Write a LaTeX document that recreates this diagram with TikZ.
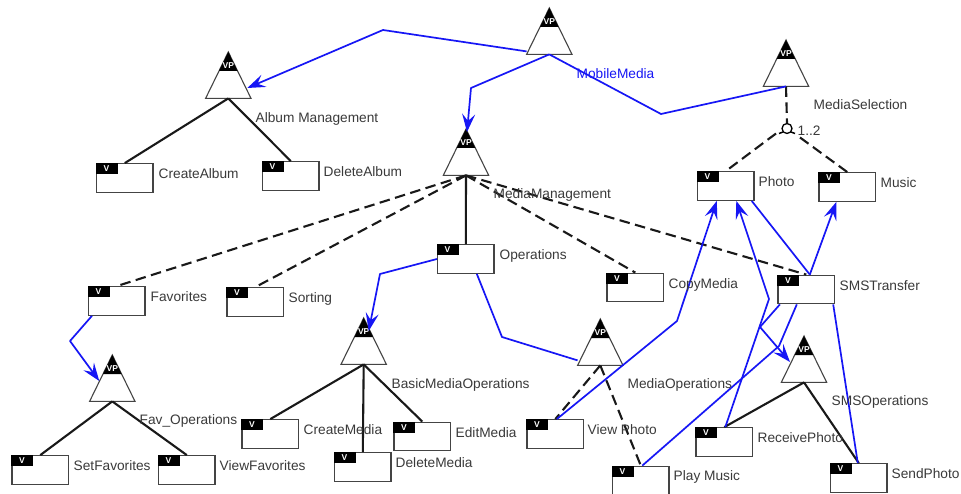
\documentclass[tikz,border=0pt]{standalone}
\usepackage{fontspec}
\setmainfont{Liberation Sans}
\usetikzlibrary{arrows.meta,calc}
\definecolor{linkblue}{HTML}{1616F5}
\definecolor{labelgrey}{HTML}{3A3A3A}
\definecolor{edgegrey}{HTML}{444444}
\tikzset{
  x=1pt,y=-1pt,
  vpframe/.style={inner sep=0pt,minimum width=45pt,minimum height=46pt,anchor=north},
  vpshape/.style={draw=edgegrey,line width=1.1pt,fill=white,line join=miter},
  vpmark/.style={text=white,font=\bfseries\fontsize{8.5}{9}\selectfont,inner sep=0pt},
  varframe/.style={draw=edgegrey,line width=1.3pt,fill=white,inner sep=0pt,minimum width=56.5pt,minimum height=28.5pt,anchor=north west,xshift=-0.6pt,yshift=0.4pt},
  lbl/.style={anchor=base west,inner sep=0pt,text=labelgrey,xshift=-0.5pt,font=\fontsize{13.7}{15}\selectfont},
  mand/.style={draw=black!90,line width=2.1pt},
  opt/.style={draw=black!90,line width=2.1pt,dash pattern=on 10.5pt off 5.5pt},
  link/.style={draw=linkblue,line width=1.7pt,line join=round},
  linkarrow/.style={link,-{Stealth[length=18pt,width=13pt,inset=7pt]}}
}
\newcommand\vpoint[3]{%
  \node[vpframe] (#1) at (#2,#3) {};
  \path[vpshape] (#1.north) -- (#1.south west) -- (#1.south east) -- cycle;
  \fill[black] (#1.north) -- ($(#1.north)+(-9.3,19)$) -- ($(#1.north)+(9.3,19)$) -- cycle;
  \node[vpmark] (#1mark) at ($(#1.north)+(0,14)$) {VP};
}
\newcommand\varbox[3]{%
  \node[varframe] (#1) at (#2,#3) {};
  \fill[black] (#1.north west) rectangle ($(#1.north west)+(22,11)$);
  \node[vpmark] (#1mark) at ($(#1.north west)+(10.5,5.5)$) {V};
}
\begin{document}
\begin{tikzpicture}
\useasboundingbox (0,0) rectangle (961,494);
\fill[white] (0,0) rectangle (961,494);

\vpoint{mobile}{549.3}{8}
\vpoint{selection}{786}{40}
\vpoint{album}{228.3}{52}
\vpoint{manage}{466}{129}
\vpoint{basic}{363.7}{318}
\vpoint{fav}{112.3}{355}
\vpoint{mediaops}{600.3}{319}
\vpoint{smsops}{804}{336}

\varbox{createalbum}{96.5}{163.5}
\varbox{deletealbum}{262.5}{161.5}
\varbox{operations}{437.5}{244.5}
\varbox{favorites}{88.5}{286.5}
\varbox{sorting}{227}{287.5}
\varbox{copymedia}{607}{273}
\varbox{smstransfer}{778}{275}
\varbox{photo}{697.5}{171.5}
\varbox{music}{819}{172.5}
\varbox{setfav}{12}{455.5}
\varbox{viewfav}{158.5}{455.5}
\varbox{createmedia}{242}{419.5}
\varbox{deletemedia}{334.5}{452.5}
\varbox{editmedia}{394}{422}
\varbox{viewphoto}{527}{419.5}
\varbox{playmusic}{612.5}{466}
\varbox{receivephoto}{696}{427.5}
\varbox{sendphoto}{830.5}{463.5}

% or-group
\node[draw=black,line width=1.3pt,circle,inner sep=0pt,minimum size=10pt,fill=white] (orgroup) at (787,128.5) {};
\coordinate (orleft) at ($(orgroup)+(-11,5)$);
\coordinate (orright) at ($(orgroup)+(13,9)$);
\draw[black,line width=1.5pt] ($(orgroup)+(-8,5)$) -- ($(orgroup)+(-4,3.5)$);
\draw[black,line width=1.5pt] ($(orgroup)+(8,5)$) -- ($(orgroup)+(4,3.5)$);

% solid and dashed relations
\draw[mand] (album.south) -- (createalbum.north);
\draw[mand] (album.south) -- (deletealbum.north);
\draw[mand] (manage.south) -- (operations.north);
\draw[opt] (manage.south) -- (favorites.north);
\draw[opt] (manage.south) -- (sorting.north);
\draw[opt] (manage.south) -- (copymedia.north);
\draw[opt] (manage.south) -- (smstransfer.north);
\draw[mand] (basic.south) -- (createmedia.north);
\draw[mand] (basic.south) -- (deletemedia.north);
\draw[mand] (basic.south) -- (editmedia.north);
\draw[mand] (fav.south) -- (setfav.north);
\draw[mand] (fav.south) -- (viewfav.north);
\draw[opt] (mediaops.south) -- (viewphoto.north);
\draw[opt] (mediaops.south) -- (playmusic.north);
\draw[mand] (smsops.south) -- (receivephoto.north);
\draw[mand] (smsops.south) -- (sendphoto.north);
\draw[opt] (selection.south) -- (orgroup.north);
\draw[opt] (orleft) -- (photo.north);
\draw[opt] (orright) -- (music.north);

% bends
\coordinate (bendA) at (383,30);
\coordinate (bendB) at (471,88);
\coordinate (bendC) at (661,114);
\coordinate (bendD) at (380,274);
\coordinate (bendE) at (70,341);
\coordinate (bendF) at (502,337);
\coordinate (bendG) at (677,321);
\coordinate (bendH) at (769,299);
\coordinate (bendI) at (760,327);
\coordinate (bendJ) at (779,346);

% blue links
\draw[linkarrow] ($(mobile.south west)+(0,-3)$) -- (bendA) -- ($(album.north)+(19,36)$);
\draw[linkarrow] (mobile.south) -- (bendB) -- ($(manage.north)+(1,3)$);
\draw[link] (mobile.south) -- (bendC) -- (selection.south);
\draw[linkarrow] (operations.west) -- (bendD) -- ($(basic.north)+(5,13)$);
\draw[linkarrow] ($(favorites.south west)+(4,0)$) -- (bendE) -- ($(fav.north)+(-13,26)$);
\draw[link] ($(operations.south)+(11,0)$) -- (bendF) -- ($(mediaops.south west)+(0,-5)$);
\draw[linkarrow] ($(viewphoto.north)+(1.5,0)$) -- (bendG) -- ($(photo.south)+(-9,0)$);
\draw[linkarrow] ($(receivephoto.north)+(1,0)$) -- (bendH) -- ($(photo.south)+(10.5,0)$);
\draw[link] ($(photo.south east)+(-3,0)$) -- ($(smstransfer.north)+(3.5,0)$);
\draw[linkarrow] ($(smstransfer.north)+(3.5,0)$) -- ($(music.south)+(-11,0)$);
\draw[linkarrow] ($(smstransfer.south west)+(2.5,0)$) -- (bendI) -- ($(smsops.north)+(-14,26)$);
\draw[link] ($(playmusic.north)+(1.5,0)$) -- (bendJ) -- ($(smstransfer.south)+(-9.5,0)$);
\draw[link] ($(sendphoto.north)+(-1,0)$) -- ($(smstransfer.south east)+(-2,0)$);

% labels
\node[lbl,text=linkblue] (lmobile) at (577,78.5) {MobileMedia};
\node[lbl] (lselection) at (814,109.5) {MediaSelection};
\node[lbl] (lcard) at (798,135.5) {1..2};
\node[lbl] (lalbum) at (256,122.5) {Album Management};
\node[lbl] (lcreatealbum) at (159,178.5) {CreateAlbum};
\node[lbl] (ldeletealbum) at (324,176.5) {DeleteAlbum};
\node[lbl] (lmanage) at (494,198.5) {MediaManagement};
\node[lbl] (lphoto) at (759,186.5) {Photo};
\node[lbl] (lmusic) at (881,187.5) {Music};
\node[lbl] (loperations) at (500,259.5) {Operations};
\node[lbl] (lfavorites) at (151,301.5) {Favorites};
\node[lbl] (lsorting) at (289,302.5) {Sorting};
\node[lbl] (lcopy) at (669,288.5) {CopyMedia};
\node[lbl] (lsms) at (840,290.5) {SMSTransfer};
\node[lbl] (lbasic) at (392,388.5) {BasicMediaOperations};
\node[lbl] (lmediaops) at (628,388.5) {MediaOperations};
\node[lbl] (lsmsops) at (832,405.5) {SMSOperations};
\node[lbl] (lfav) at (140,424.5) {Fav\_Operations};
\node[lbl] (lcreatemedia) at (304,434.5) {CreateMedia};
\node[lbl] (leditmedia) at (456,437.5) {EditMedia};
\node[lbl] (lviewphoto) at (588,434.5) {View Photo};
\node[lbl] (lreceive) at (758,442.5) {ReceivePhoto};
\node[lbl] (ldeletemedia) at (396,467.5) {DeleteMedia};
\node[lbl] (lset) at (74,470.5) {SetFavorites};
\node[lbl] (lviewfav) at (220,470.5) {ViewFavorites};
\node[lbl] (lsend) at (892,478.5) {SendPhoto};
\node[lbl] (lplay) at (674,480.5) {Play Music};
\end{tikzpicture}
\end{document}
